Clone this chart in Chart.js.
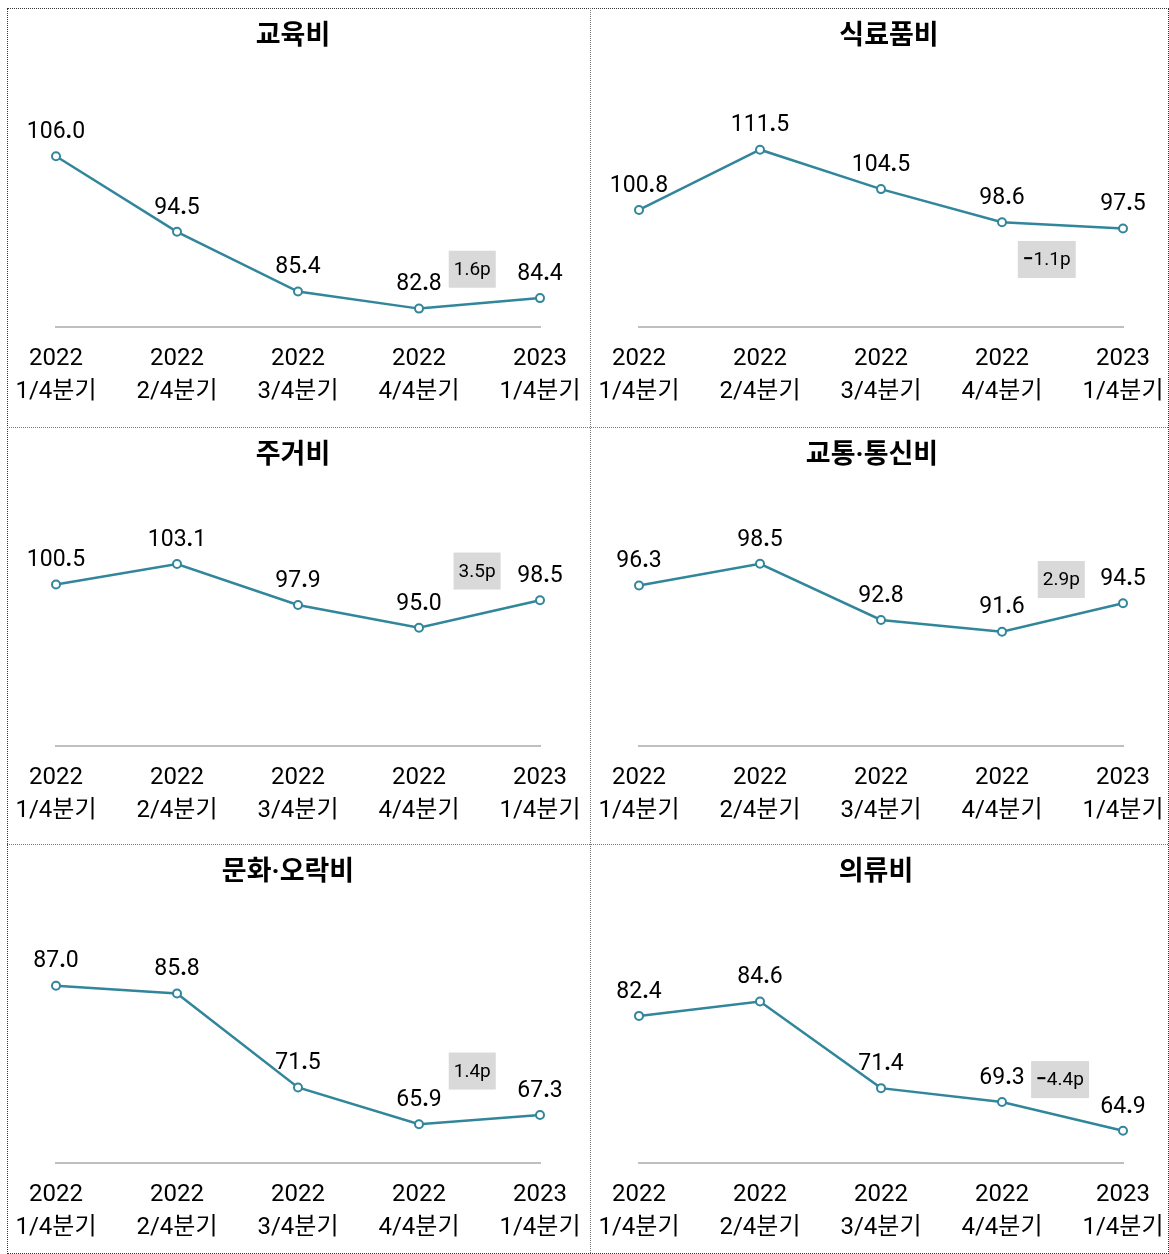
<!DOCTYPE html>
<html>
<head>
<meta charset="utf-8">
<script src="https://cdn.jsdelivr.net/npm/chart.js@4/dist/chart.umd.min.js"></script>
<style>
  body { margin: 0; background: #fff; }
  #page { position: relative; width: 1169px; height: 1254px; overflow: hidden; }
  .line { position: absolute; }
  canvas { position: absolute; }
</style>
</head>
<body>
<div id="page">
  <div class="line" style="left:7px;top:8px;width:1160px;height:1244px;border:1px dotted #333;"></div>
  <div class="line" style="left:590px;top:8px;height:1245px;border-left:1px dotted #777;"></div>
  <div class="line" style="left:7px;top:427px;width:1161px;border-top:1px dotted #777;"></div>
  <div class="line" style="left:7px;top:844px;width:1161px;border-top:1px dotted #777;"></div>
</div>
<script>
const categories = [['2022', '1/4분기'], ['2022', '2/4분기'], ['2022', '3/4분기'], ['2022', '4/4분기'], ['2023', '1/4분기']];
const titles = ['교육비', '식료품비', '주거비', '교통·통신비', '문화·오락비', '의류비'];
const education = [106.0, 94.5, 85.4, 82.8, 84.4];
const food = [100.8, 111.5, 104.5, 98.6, 97.5];
const housing = [100.5, 103.1, 97.9, 95.0, 98.5];
const transport = [96.3, 98.5, 92.8, 91.6, 94.5];
const culture = [87.0, 85.8, 71.5, 65.9, 67.3];
const clothing = [82.4, 84.6, 71.4, 69.3, 64.9];
const changeLabels = ['1.6p', '−1.1p', '3.5p', '2.9p', '1.4p', '−4.4p'];
const yMin = [80, 80, 80, 80, 60, 60];
const yMax = [110, 115, 105, 100, 90, 90];

const series = [education, food, housing, transport, culture, clothing];
// where the gray change box sits, in scale units [x index, y value]
const boxAt = [[3.44, 88.8], [3.37, 92.0], [3.48, 102.2], [3.49, 96.9], [3.44, 74.0], [3.48, 72.7]];
// title centre, px from canvas left
const titleX = [286, 299, 286, 282, 281, 286];

const lineColor = '#31869b';
const fontFamily = "Roboto, 'Noto Sans CJK KR', sans-serif";

// draws text centred at x, with some characters (dot, minus) set in bold
// the way the source picture shows them
function drawMixed(ctx, text, x, y, size, boldChars) {
  const reg = size + 'px ' + fontFamily, bold = 'bold ' + size + 'px ' + fontFamily;
  const pieces = [];
  for (const ch of text) {
    const font = boldChars.includes(ch) ? bold : reg;
    ctx.font = font;
    pieces.push({ ch, font, w: ctx.measureText(ch).width });
  }
  let left = x - pieces.reduce((s, p) => s + p.w, 0) / 2;
  ctx.textAlign = 'left';
  pieces.forEach(p => {
    ctx.font = p.font;
    ctx.fillText(p.ch, left, y);
    left += p.w;
  });
  ctx.textAlign = 'center';
}

// title, value labels above points, change box
const labelPlugin = {
  id: 'labels',
  afterDatasetsDraw(chart, args, opts) {
    const ctx = chart.ctx;
    const meta = chart.getDatasetMeta(0);
    ctx.save();
    ctx.textAlign = 'center';
    ctx.textBaseline = 'middle';
    ctx.fillStyle = '#000';

    ctx.font = 'bold 27px ' + fontFamily;
    ctx.fillText(opts.title, opts.titleX, 29);

    meta.data.forEach((pt, i) => {
      const v = chart.data.datasets[0].data[i];
      drawMixed(ctx, v.toFixed(1), pt.x, pt.y - 24, 23, '.');
    });

    const bx = chart.scales.x.getPixelForValue(opts.at[0]);
    const by = chart.scales.y.getPixelForValue(opts.at[1]);
    ctx.font = '19px ' + fontFamily;
    const w = ctx.measureText(opts.text).width + 10;
    ctx.fillStyle = '#d9d9d9';
    ctx.fillRect(bx - w / 2, by - 18.5, w, 37);
    ctx.fillStyle = '#000';
    drawMixed(ctx, opts.text, bx, by + 1, 19, '−');
    ctx.restore();
  }
};

const page = document.getElementById('page');

series.forEach((data, k) => {
  const col = k % 2, row = Math.floor(k / 2);
  const canvas = document.createElement('canvas');
  const w = col === 0 ? 583 : 578;
  canvas.width = w;
  canvas.height = 419;
  canvas.style.left = (col === 0 ? 7 : 590) + 'px';
  canvas.style.top = [8, 427, 844][row] + 'px';
  page.appendChild(canvas);

  new Chart(canvas.getContext('2d'), {
    type: 'line',
    data: {
      labels: categories,
      datasets: [{
        data: data,
        borderColor: lineColor,
        borderWidth: 2.5,
        pointRadius: 4,
        pointBorderWidth: 2,
        pointBackgroundColor: '#fff',
        pointBorderColor: lineColor,
        tension: 0
      }]
    },
    options: {
      responsive: false,
      animation: false,
      layout: { padding: { left: 49, right: w - 533, top: 122, bottom: 3 } },
      plugins: {
        legend: { display: false },
        tooltip: { enabled: false },
        labels: { title: titles[k], titleX: titleX[k], text: changeLabels[k], at: boxAt[k] }
      },
      scales: {
        x: {
          offset: false,
          grid: { display: false, drawTicks: false },
          border: { display: true, color: '#bfbfbf', width: 2 },
          ticks: {
            color: '#000',
            padding: 15.5,
            maxRotation: 0,
            autoSkip: false,
            font: { family: fontFamily, size: 24, lineHeight: 1.375 }
          },
          afterFit(scale) {
            // labels already fit inside the side padding
            scale.paddingLeft = 0;
            scale.paddingRight = 0;
          }
        },
        y: {
          display: false,
          min: yMin[k],
          max: yMax[k]
        }
      }
    },
    plugins: [labelPlugin]
  });
});
</script>
</body>
</html>
